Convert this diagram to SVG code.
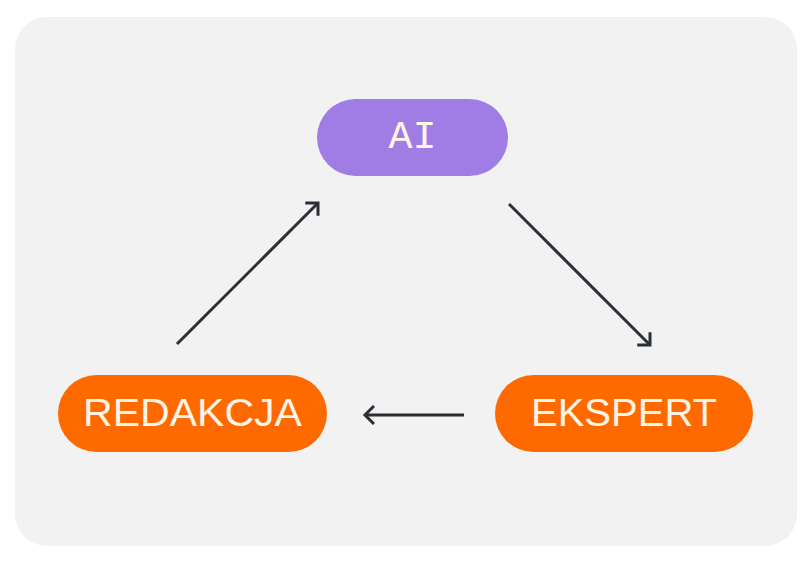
<svg xmlns="http://www.w3.org/2000/svg" width="812" height="563" viewBox="0 0 812 563">
<style>
.pill-o{fill:#ff6a00}
.t{font-family:"Liberation Sans",Arial,sans-serif;font-size:38px;fill:#fff4e8;text-anchor:middle;dominant-baseline:central}
.c{stroke:#2a2f36;stroke-width:3;fill:none;stroke-linecap:butt}
</style>
<defs>
<marker id="ah" markerWidth="20" markerHeight="20" refX="10" refY="10" orient="auto" markerUnits="userSpaceOnUse">
<path d="M1,1 L10,10 L1,19" stroke="#2a2f36" stroke-width="3" fill="none"/>
</marker>
</defs>
<rect x="15" y="17" width="782" height="529" rx="32" fill="#f2f2f2"/>
<g id="ai"><rect x="317" y="99" width="191" height="77" rx="38.5" fill="#9f7de5"/><text class="t" x="412.5" y="137" textLength="48" lengthAdjust="spacingAndGlyphs" style="font-family:'Liberation Mono','DejaVu Sans Mono',monospace">AI</text></g>
<g id="redakcja"><rect class="pill-o" x="58" y="375" width="269" height="77" rx="38.5"/><text class="t" x="192.5" y="413" textLength="219" lengthAdjust="spacingAndGlyphs">REDAKCJA</text></g>
<g id="ekspert"><rect class="pill-o" x="495" y="375" width="258" height="77" rx="38.5"/><text class="t" x="624" y="413" textLength="186" lengthAdjust="spacingAndGlyphs">EKSPERT</text></g>
<g id="connectors">
<line class="c" x1="177" y1="344" x2="318" y2="203" marker-end="url(#ah)"/>
<line class="c" x1="509" y1="204" x2="650" y2="345" marker-end="url(#ah)"/>
<line class="c" x1="464" y1="415" x2="365" y2="415" marker-end="url(#ah)"/>
</g>
</svg>
